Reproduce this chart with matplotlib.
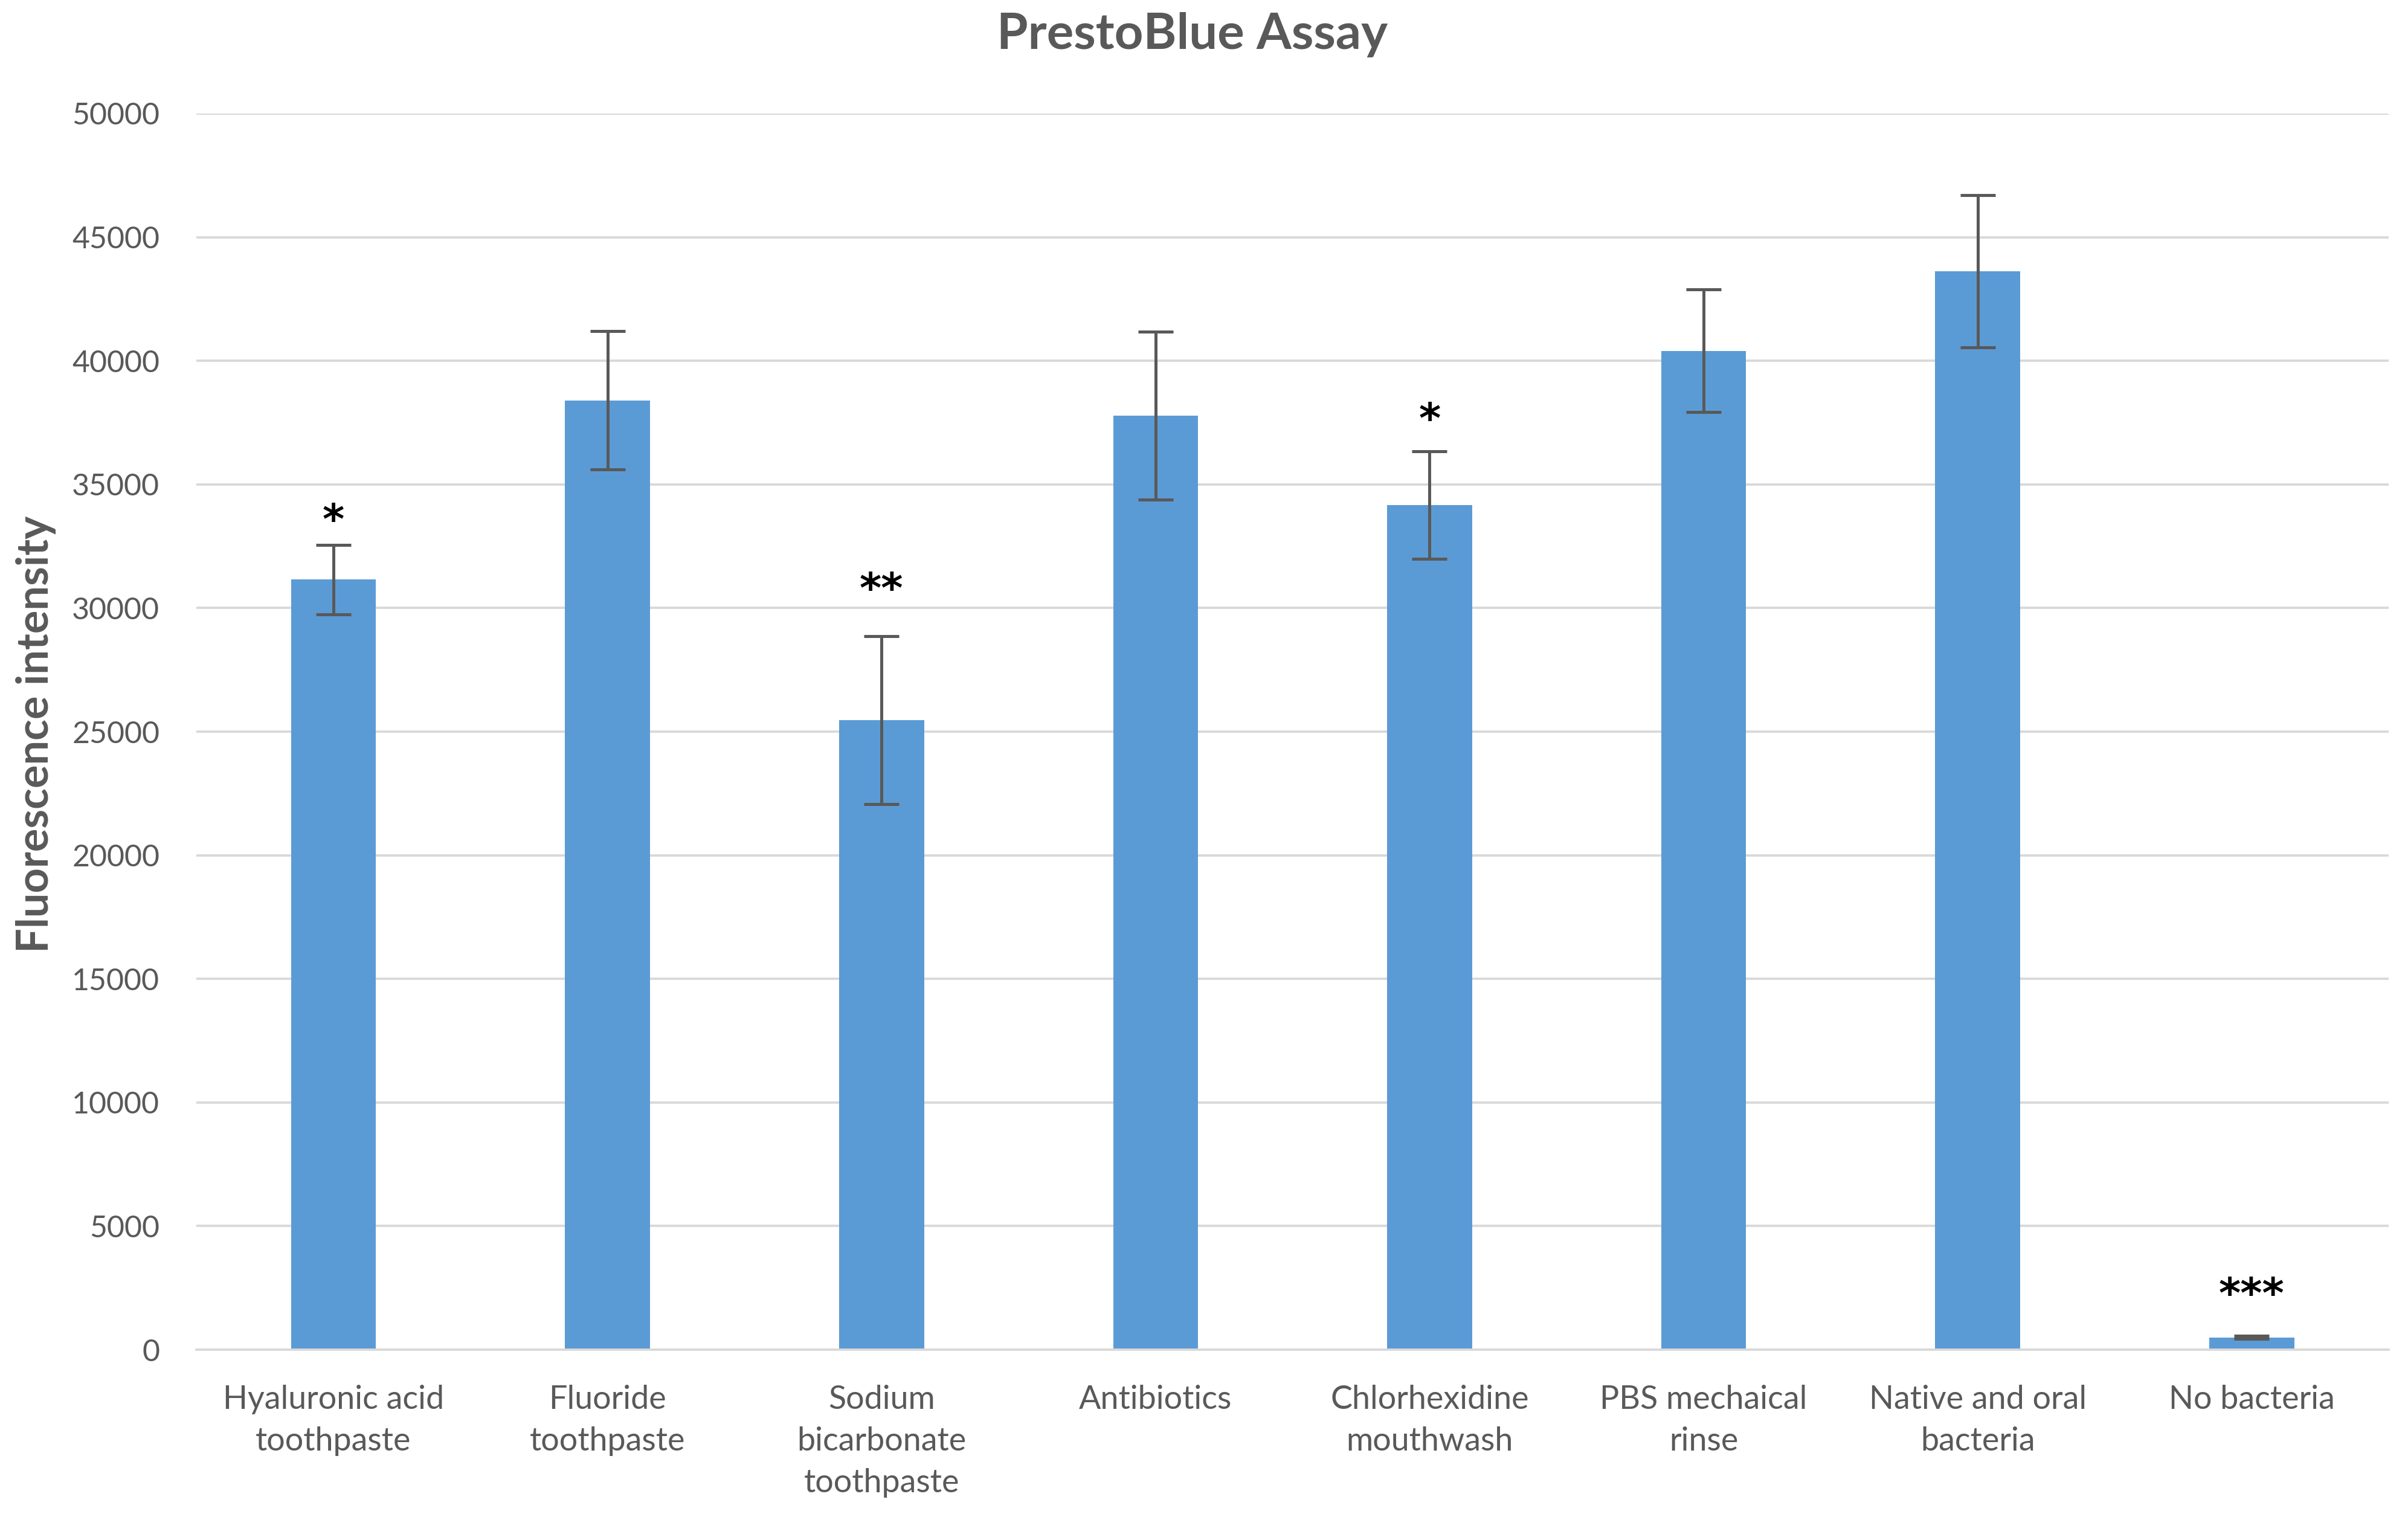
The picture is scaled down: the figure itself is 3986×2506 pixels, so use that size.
import matplotlib.pyplot as plt
import numpy as np

plt.rcParams['font.family'] = ['Lato', 'DejaVu Sans']

categories = ["Hyaluronic acid\ntoothpaste", "Fluoride\ntoothpaste", "Sodium\nbicarbonate\ntoothpaste",
              "Antibiotics", "Chlorhexidine\nmouthwash", "PBS mechaical\nrinse",
              "Native and oral\nbacteria", "No bacteria"]
means = [31150, 38400, 25470, 37780, 34170, 40400, 43620, 500]
errors = [1400, 2800, 3400, 3400, 2170, 2480, 3080, 60]
stars = ["*", "", "**", "", "*", "", "", "***"]
star_offsets = [14, 0, 27, 0, 18, 0, 0, 24]  # points above error bar top

bar_color = "#5B9BD5"
text_color = "#595959"
grid_color = "#D9D9D9"

fig = plt.figure(figsize=(19.93, 12.53), dpi=200)
ax = fig.add_axes([0.0816, 0.1085, 0.9104, 0.8165])

x = np.arange(len(categories))
ax.bar(x, means, width=0.31, color=bar_color, zorder=2)
ax.errorbar(x, means, yerr=errors, fmt='none', ecolor=text_color, elinewidth=1.8,
            capsize=10.5, capthick=1.8, zorder=3)

for i, s in enumerate(stars):
    if s:
        ax.annotate(s, (x[i], means[i] + errors[i]), xytext=(0, star_offsets[i]),
                    textcoords='offset points', ha='center', va='center',
                    fontsize=25, fontweight='bold', color='black', zorder=4,
                    family='DejaVu Sans')

ax.set_xlim(-0.5, len(categories) - 0.5)
ax.set_ylim(0, 50000)
ax.set_yticks(np.arange(0, 50001, 5000))
ax.yaxis.grid(True, color=grid_color, linewidth=1.4, zorder=0)
ax.set_axisbelow(True)
for side in ['top', 'right', 'left']:
    ax.spines[side].set_visible(False)
ax.spines['bottom'].set_color(grid_color)
ax.spines['bottom'].set_linewidth(1.4)
ax.tick_params(axis='both', length=0, labelcolor=text_color)
ax.tick_params(axis='y', pad=22, labelsize=18)
ax.tick_params(axis='x', pad=21, labelsize=19.4)
ax.set_xticks(x)
ax.set_xticklabels(categories, linespacing=1.5)

fig.text(0.015, 0.515, "Fluorescence intensity", rotation=90, ha='center', va='center',
         fontsize=26, fontweight='bold', color=text_color)
fig.text(0.495, 0.977, "PrestoBlue Assay", ha='center', va='center',
         fontsize=30, fontweight='bold', color=text_color)

fig.savefig("out.png", dpi=200)
